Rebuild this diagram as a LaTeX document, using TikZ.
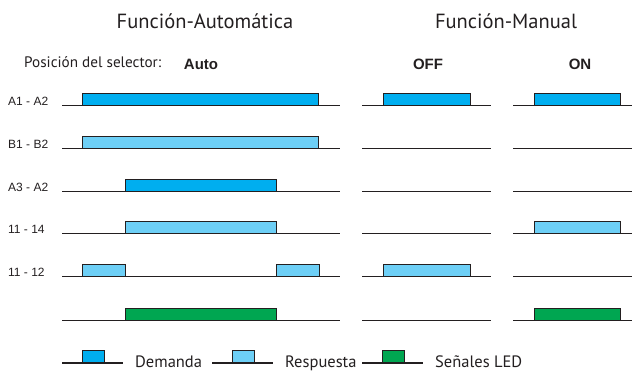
\documentclass[tikz,border=0pt]{standalone}
\usepackage{fontspec}
\setmainfont{Liberation Sans}
\newfontfamily\myriad{PT Sans}
\usetikzlibrary{calc}
\definecolor{demanda}{RGB}{0,174,239}
\definecolor{respuesta}{RGB}{109,207,246}
\definecolor{led}{RGB}{0,166,81}
\definecolor{linea}{RGB}{35,31,32}

\begin{document}
\begin{tikzpicture}[x=1pt,y=-1pt,
  base/.style={linea, line width=1pt},
  pulso/.style={draw=linea, line width=1pt},
  titulo/.style={inner sep=0, text=linea, font=\myriad\fontsize{20.5}{22}\selectfont},
  etiqueta/.style={inner sep=0, text=linea, font=\fontsize{12}{13}\selectfont},
  modo/.style={inner sep=0, text=linea, font=\bfseries\fontsize{15}{16}\selectfont},
  leyenda/.style={inner sep=0, text=linea, font=\myriad\fontsize{16.5}{18}\selectfont}]
\useasboundingbox (0,0) rectangle (632,371);
% titulos
\node[titulo, anchor=base] (tauto) at (205,29) {Función-Automática};
\node[titulo, anchor=base] (tman) at (506,29) {Función-Manual};
\node[inner sep=0, text=linea, font=\myriad\fontsize{15.2}{16}\selectfont, anchor=base west] (selector) at (24,68) {Posición del selector:};
\node[modo, anchor=base] (auto) at (201,70) {Auto};
\node[modo, anchor=base] (off) at (428,70) {OFF};
\node[modo, anchor=base] (on) at (580,70) {ON};
% lineas base
\foreach \y in {106,149,192,234,277,321} {
  \draw[base] (62,\y)--(340,\y);
  \draw[base] (362,\y)--(491,\y);
  \draw[base] (513,\y)--(632,\y);
}
% etiquetas
\foreach \y/\t [count=\i] in {106/A1 - A2,149/B1 - B2,192/A3 - A2,234/11 - 14,277/11 - 12}
  \node[etiqueta, anchor=base west] (fila\i) at (8,\y-0.5) {\t};
% pulsos
\foreach \a/\b/\y/\c in {82/318/106/demanda, 383/470/106/demanda, 534/620/106/demanda,
  82/318/149/respuesta, 125/276/192/demanda,
  125/276/234/respuesta, 534/620/234/respuesta,
  82/125/277/respuesta, 276/319/277/respuesta, 383/470/277/respuesta,
  125/276/321/led, 534/620/321/led}
  \filldraw[pulso, fill=\c] (\a,\y) rectangle (\b,\y-12.5);
% leyenda
\foreach \a/\c/\t [count=\i] in {62/demanda/Demanda, 212/respuesta/Respuesta, 362/led/Señales LED} {
  \draw[base] (\a,363)--++(61,0);
  \filldraw[pulso, fill=\c] (\a+20,363) rectangle (\a+42,351);
  \node[leyenda, anchor=base west] (ley\i) at (\a+73,367) {\t};
}
\end{tikzpicture}
\end{document}
